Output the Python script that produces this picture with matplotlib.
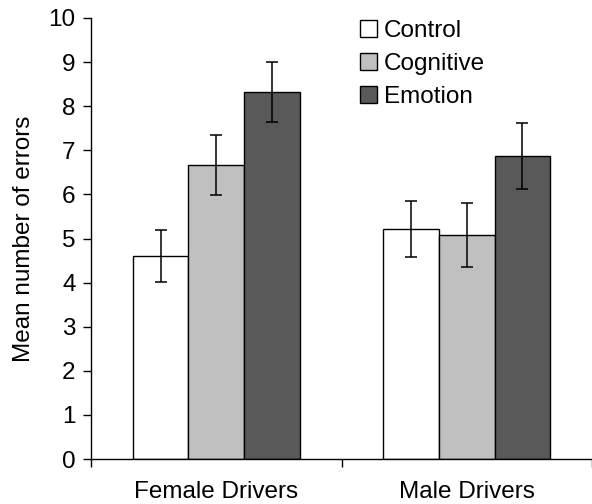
import numpy as np
import matplotlib.pyplot as plt
from matplotlib.patches import Patch

plt.rcParams['font.family'] = ['Liberation Sans', 'DejaVu Sans']

# Data
groups = ["Female Drivers", "Male Drivers"]
conditions = ["Control", "Cognitive", "Emotion"]
means = {
    "Control": [4.61, 5.22],
    "Cognitive": [6.66, 5.08],
    "Emotion": [8.32, 6.87],
}
errors = {
    "Control": [0.59, 0.64],
    "Cognitive": [0.68, 0.73],
    "Emotion": [0.68, 0.74],
}
bar_colors = {"Control": "#ffffff", "Cognitive": "#c0c0c0", "Emotion": "#595959"}

fs = 17.5

fig = plt.figure(figsize=(5.92, 5.04), dpi=100)
ax = fig.add_axes([91 / 592, 45 / 504, 501 / 592, 441 / 504])

centers = np.arange(len(groups)) + 0.5
width = 0.2225

# Draw each condition as a set of bars with error bars
for i, cond in enumerate(conditions):
    x = centers + (i - 1) * width
    ax.bar(x, means[cond], width, color=bar_colors[cond], edgecolor="black",
           linewidth=1.0, zorder=2)
    ax.errorbar(x, means[cond], yerr=errors[cond], fmt="none", ecolor="black",
                elinewidth=1.1, capsize=4, capthick=1.1, zorder=3)

# Axes limits and ticks
ax.set_xlim(0, 501 / 253)
ax.set_ylim(0, 10)
ax.set_yticks(np.arange(0, 11, 1))
ax.set_xticks([0, 1, 2])
ax.set_xticklabels([])
ax.set_xticks(centers, minor=True)
ax.set_xticklabels(groups, minor=True)
ax.tick_params(axis="x", which="minor", length=0, pad=15.5, labelsize=fs)
ax.tick_params(axis="x", which="major", direction="out", length=6, width=1)
ax.tick_params(axis="y", direction="out", length=6, width=1, labelsize=fs, pad=5)

for side in ["top", "right"]:
    ax.spines[side].set_visible(False)
for side in ["left", "bottom"]:
    ax.spines[side].set_linewidth(1.0)

ax.set_ylabel("Mean number of errors", fontsize=fs, labelpad=10)

# Legend with square patches
handles = [Patch(facecolor=bar_colors[c], edgecolor="black", linewidth=1.0)
           for c in conditions]
ax.legend(handles, conditions, loc="upper left",
          bbox_to_anchor=(336 / 592, 1 + 4 / 504),
          bbox_transform=fig.transFigure, frameon=False, fontsize=fs,
          handlelength=0.68, handleheight=0.68, handletextpad=0.3,
          labelspacing=0.45, borderaxespad=0.6)

plt.savefig("out.png", dpi=100)
